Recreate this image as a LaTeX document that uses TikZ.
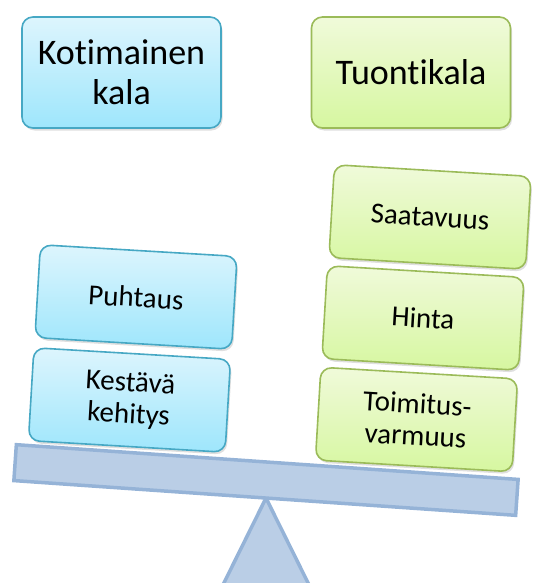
\documentclass[tikz,border=0pt]{standalone}
\usepackage{fontspec}
\setmainfont{Carlito}[Ligatures={NoCommon}]
\usetikzlibrary{shadows}
\definecolor{blueedge}{HTML}{46A8C4}
\definecolor{bluetop}{HTML}{DDF5FD}
\definecolor{bluebot}{HTML}{9EE6FC}
\definecolor{greenedge}{HTML}{9BBB59}
\definecolor{greentop}{HTML}{F0FADA}
\definecolor{greenbot}{HTML}{D6F7A0}
\definecolor{beamfill}{HTML}{BACEE6}
\definecolor{beamedge}{HTML}{95B3D7}
\tikzset{
  box/.style={draw, line width=1.6pt, rounded corners=11pt, align=center,
    drop shadow={opacity=0.25, shadow xshift=1.5pt, shadow yshift=-2.5pt}},
  bluebox/.style={box, draw=blueedge, top color=bluetop, bottom color=bluebot},
  greenbox/.style={box, draw=greenedge, top color=greentop, bottom color=greenbot},
  bigbox/.style={minimum width=199pt, minimum height=111pt,
    font=\fontsize{36}{40}\selectfont},
  smallbox/.style={minimum width=197pt, minimum height=93pt, rotate=-3.4,
    font=\fontsize{29}{32}\selectfont},
  beamstyle/.style={draw=beamedge, fill=beamfill, line width=3.5pt,
    minimum width=503pt, minimum height=36pt, rotate=-3.96, inner sep=0pt},
}
\begin{document}
\begin{tikzpicture}[x=1pt, y=-1pt]
\useasboundingbox (0,0) rectangle (533,583);
\clip (0,0) rectangle (533,583);
% fulcrum
\coordinate (apex) at (266,498);
\coordinate (bl) at (214,603);
\coordinate (br) at (318,603);
\draw[draw=beamedge, fill=beamfill, line width=3.5pt, line join=miter] (apex) -- (bl) -- (br) -- cycle;
% beam
\node[beamstyle] (beam) at (266,480) {};
% headers
\node[bluebox, bigbox] (kot) at (121.5,72.5) {Kotimainen\\kala};
\node[greenbox, bigbox] (tuo) at (411,72.5) {Tuontikala};
% left stack
\node[bluebox, smallbox] (puh) at (136,297) {Puhtaus};
\node[bluebox, smallbox] (kes) at (129.5,400) {Kestävä\\kehitys};
% right stack
\node[greenbox, smallbox] (saa) at (430,217) {Saatavuus};
\node[greenbox, smallbox] (hin) at (423,318) {Hinta};
\node[greenbox, smallbox] (toi) at (416.5,419.5) {Toimitus-\\varmuus};
\end{tikzpicture}
\end{document}
